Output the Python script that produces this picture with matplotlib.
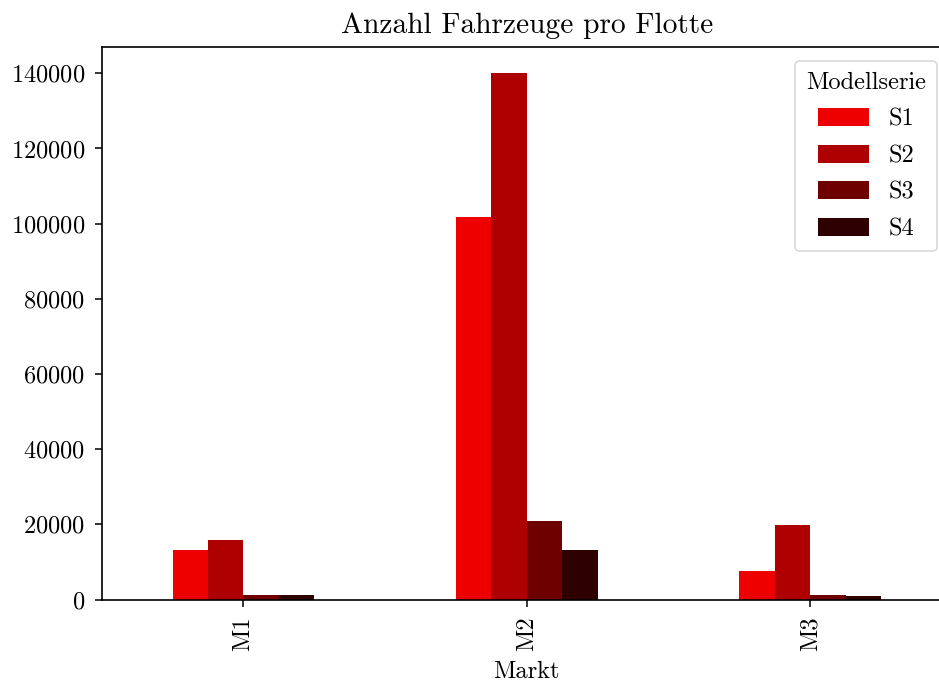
import matplotlib
matplotlib.use("Agg")
import matplotlib.pyplot as plt
import numpy as np

plt.rcParams['font.family'] = 'serif'
plt.rcParams['font.serif'] = ['cmr10']
plt.rcParams['mathtext.fontset'] = 'cm'
plt.rcParams['axes.formatter.use_mathtext'] = True
plt.rcParams['axes.unicode_minus'] = False

markets = ["M1", "M2", "M3"]
series = ["S1", "S2", "S3", "S4"]
values = {
    "S1": [13300, 101800, 7500],
    "S2": [15700, 140200, 19800],
    "S3": [1300, 20800, 1300],
    "S4": [1300, 13100, 1000],
}
colors = ["#EE0000", "#AE0000", "#6E0000", "#2E0000"]

W, H = 939, 684
fig = plt.figure(figsize=(W / 100, H / 100), dpi=100)
left, right, top, bottom = 101.7, 952, 47, 599.5
ax = fig.add_axes([left / W, 1 - bottom / H, (right - left) / W, (bottom - top) / H])

x = np.arange(len(markets))
bw = 0.125
for i, s in enumerate(series):
    ax.bar(x + (i - 1.5) * bw, values[s], width=bw, color=colors[i], label=s)

fs = 17.6
ax.set_xlim(-0.5, 2.5)
ax.set_ylim(0, 147000)
ax.set_xticks(x)
ax.set_xticklabels(markets, rotation=90)
ax.set_yticks(np.arange(0, 140001, 20000))
ax.tick_params(labelsize=fs, length=5, width=1.1, pad=7)
ax.set_xlabel("Markt", fontsize=fs, labelpad=7)
ax.set_title("Anzahl Fahrzeuge pro Flotte", fontsize=21.2, pad=10)
for sp in ax.spines.values():
    sp.set_linewidth(1.2)
ax.spines['right'].set_visible(False)

leg = ax.legend(title="Modellserie", fontsize=fs, title_fontsize=fs,
                loc="upper right", bbox_to_anchor=(937 / W, 1 - 60.7 / H),
                bbox_transform=fig.transFigure, borderaxespad=0,
                handlelength=2.1, handleheight=0.75, labelspacing=0.58,
                borderpad=0.45)
leg.get_frame().set_linewidth(1.1)

fig.savefig("out.png", dpi=100)
